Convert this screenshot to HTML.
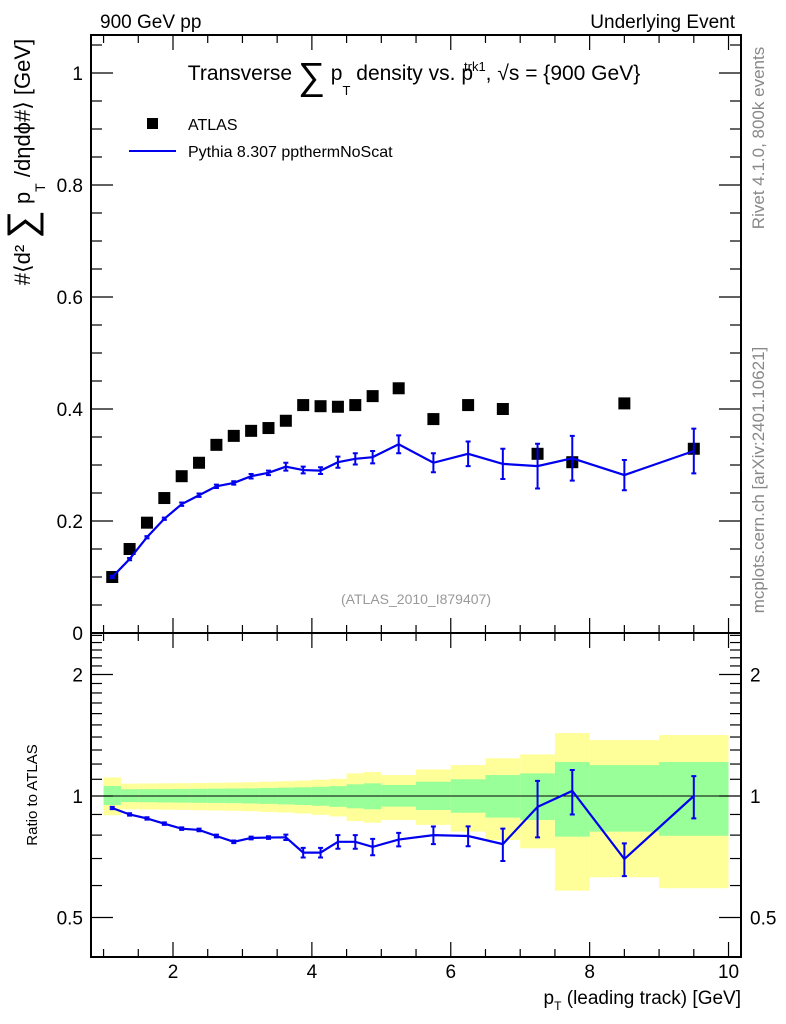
<!DOCTYPE html>
<html><head><meta charset="utf-8"><style>
body{margin:0;background:#fff}
svg{display:block;font-family:"Liberation Sans",sans-serif}
</style></head><body>
<svg id="c" width="786" height="1024" viewBox="0 0 786 1024" xmlns="http://www.w3.org/2000/svg">
<text x="100" y="28" font-size="19">900 GeV pp</text>
<text x="735" y="28" font-size="19" text-anchor="end">Underlying Event</text>
<text x="414" y="80" font-size="21" text-anchor="middle">Transverse <tspan font-size="38" dy="9">∑</tspan><tspan dy="-9"> p</tspan><tspan font-size="13" dy="15">T</tspan><tspan dy="-15"> density vs. p</tspan><tspan font-size="13" dy="-9" dx="-9">trk1</tspan><tspan dy="9">, √s = {900 GeV}</tspan></text>
<rect x="147" y="118" width="11" height="11" fill="#000"/>
<text x="188" y="130" font-size="16">ATLAS</text>
<line x1="129" y1="151" x2="176" y2="151" stroke="#0000ee" stroke-width="2"/>
<text x="188" y="157" font-size="16">Pythia 8.307 ppthermNoScat</text>
<text x="416" y="604" font-size="14" fill="#999" text-anchor="middle">(ATLAS_2010_I879407)</text>
<text transform="translate(764,138) rotate(-90)" font-size="17" fill="#888" text-anchor="middle">Rivet 4.1.0,  800k events</text>
<text transform="translate(764,480) rotate(-90)" font-size="17" fill="#888" text-anchor="middle">mcplots.cern.ch [arXiv:2401.10621]</text>
<text transform="translate(30,162) rotate(-90)" font-size="22" text-anchor="middle">#⟨d² <tspan font-size="40" dy="5">∑</tspan><tspan dy="-5"> p</tspan><tspan font-size="14" dy="15">T</tspan><tspan dy="-15"> /dηdϕ#⟩ [GeV]</tspan></text>
<text transform="translate(37,795) rotate(-90)" font-size="15" text-anchor="middle">Ratio to ATLAS</text>
<text x="741" y="1004" font-size="19" text-anchor="end">p<tspan font-size="12" dy="6">T</tspan><tspan dy="-6"> (leading track) [GeV]</tspan></text>
<g id="g"></g>
</svg>
<script>
const xVals=[1.125,1.375,1.625,1.875,2.125,2.375,2.625,2.875,3.125,3.375,3.625,3.875,4.125,4.375,4.625,4.875,5.25,5.75,6.25,6.75,7.25,7.75,8.5,9.5];
const binEdges=[1,1.25,1.5,1.75,2,2.25,2.5,2.75,3,3.25,3.5,3.75,4,4.25,4.5,4.75,5,5.5,6,6.5,7,7.5,8,9,10];
const atlasVals=[0.10,0.15,0.197,0.241,0.28,0.304,0.336,0.352,0.361,0.366,0.379,0.407,0.405,0.404,0.407,0.423,0.437,0.382,0.407,0.40,0.32,0.305,0.41,0.329];
const pythiaVals=[0.10,0.132,0.171,0.204,0.23,0.246,0.262,0.268,0.28,0.286,0.297,0.291,0.29,0.305,0.311,0.314,0.337,0.304,0.32,0.302,0.298,0.312,0.282,0.325];
const pythiaErr=[0.002,0.002,0.002,0.002,0.003,0.003,0.003,0.003,0.004,0.004,0.007,0.006,0.006,0.01,0.01,0.011,0.016,0.017,0.022,0.027,0.04,0.04,0.027,0.04];
const ratioVals=[0.934,0.90,0.88,0.854,0.83,0.824,0.796,0.77,0.787,0.789,0.79,0.724,0.724,0.77,0.77,0.748,0.78,0.80,0.796,0.76,0.94,1.03,0.698,1.0];
const ratioErr=[0.006,0.006,0.006,0.006,0.006,0.006,0.006,0.006,0.006,0.006,0.012,0.02,0.02,0.03,0.03,0.035,0.03,0.04,0.045,0.07,0.15,0.13,0.065,0.12];
const yellowHi=[1.112,1.073,1.074,1.075,1.076,1.077,1.078,1.080,1.082,1.085,1.088,1.092,1.097,1.103,1.138,1.147,1.127,1.164,1.193,1.24,1.268,1.432,1.376,1.416];
const yellowLo=[0.896,0.927,0.926,0.925,0.924,0.922,0.921,0.919,0.917,0.913,0.910,0.905,0.898,0.890,0.867,0.859,0.872,0.848,0.816,0.778,0.742,0.583,0.629,0.591];
const greenHi=[1.059,1.039,1.040,1.040,1.041,1.042,1.043,1.044,1.045,1.047,1.049,1.051,1.054,1.058,1.069,1.075,1.065,1.085,1.10,1.127,1.138,1.214,1.193,1.214];
const greenLo=[0.95,0.966,0.965,0.964,0.963,0.962,0.961,0.960,0.958,0.956,0.953,0.950,0.946,0.940,0.932,0.927,0.941,0.923,0.909,0.884,0.872,0.793,0.816,0.797];
const xTicks=[2,4,6,8,10];
const yTicks=[0,0.2,0.4,0.6,0.8,1];
const rTicks=[0.5,1,2];

const NS="http://www.w3.org/2000/svg",G=document.getElementById('g');
const L=91,R=741,T=35,MB=633,RB=957;
const X=v=>173+(v-2)*69.44;
const Y=v=>633-v*560;
const RY=v=>796-Math.log2(v)*121.5;
function mk(tag,at,parent){const e=document.createElementNS(NS,tag);for(const k in at)e.setAttribute(k,at[k]);(parent||G).appendChild(e);return e;}

binEdges.slice(0,-1).forEach((lo,i)=>{
 const hi=binEdges[i+1];
 const y=mk('rect',{x:X(lo),y:RY(yellowHi[i]),width:X(hi)-X(lo),height:RY(yellowLo[i])-RY(yellowHi[i]),fill:'#ffff99'});
 
 
});
binEdges.slice(0,-1).forEach((lo,i)=>{
 const hi=binEdges[i+1];
 const g=mk('rect',{x:X(lo),y:RY(greenHi[i]),width:X(hi)-X(lo),height:RY(greenLo[i])-RY(greenHi[i]),fill:'#99ff99'});
 
 
});
const one=mk('line',{x1:L,x2:R,y1:RY(1),y2:RY(1),stroke:'#000','stroke-width':1});



[[T,MB],[MB,RB]].forEach((f,k)=>{
 const r=mk('rect',{x:L,y:f[0],width:R-L,height:f[1]-f[0],fill:'none',stroke:'#000','stroke-width':2});
 
 
});
for(let v=1;v<=10.01;v+=0.5){
 const maj=Math.abs(v-Math.round(v))<1e-6 && Math.round(v)%2===0;
 const len=maj?15:8;
 [[MB,-1],[T,1],[RB,-1],[MB,1]].forEach(([y0,d])=>{
  const t=mk('line',{x1:X(v),x2:X(v),y1:y0,y2:y0+d*len,stroke:'#000','stroke-width':1.2});
  
  
 });
}
xTicks.forEach(v=>{
 const t=mk('text',{x:X(v),y:978,'font-size':19,'text-anchor':'middle'});t.textContent=v;
 
 
});
for(let i=0;i<=21;i++){const v=i*0.05;const y=Y(v);if(y<T)continue;
 const maj=i%4===0,len=maj?22:11;
 [[L,1],[R,-1]].forEach(([x0,d])=>{
  const t=mk('line',{x1:x0,x2:x0+d*len,y1:y,y2:y,stroke:'#000','stroke-width':1.2});
  
  
 });
}
yTicks.forEach(v=>{
 const t=mk('text',{x:83,y:Y(v)+7,'font-size':19,'text-anchor':'end'});t.textContent=v;
 
 
});
for(let i=5;i<=25;i++){const v=i/10;const y=RY(v);if(y<MB+2||y>RB-2)continue;
 const maj=(i===5||i===10||i===20),len=maj?22:11;
 [[L,1],[R,-1]].forEach(([x0,d])=>{
  const t=mk('line',{x1:x0,x2:x0+d*len,y1:y,y2:y,stroke:'#000','stroke-width':1.2});
  
  
 });
}
rTicks.forEach(v=>{
 [[83,'end'],[750,'start']].forEach(([x,a])=>{
  const t=mk('text',{x:x,y:RY(v)+7,'font-size':19,'text-anchor':a});t.textContent=v;
  
  
 });
});
xVals.forEach((x,i)=>{
 const r=mk('rect',{x:X(x)-6,y:Y(atlasVals[i])-6,width:12,height:12,fill:'#000'});
 
 
});
function series(vals,errs,yf,name){
 const pl=mk('polyline',{points:xVals.map((x,i)=>X(x)+','+yf(vals[i])).join(' '),fill:'none',stroke:'#0000ee','stroke-width':2.2});
 
 
 xVals.forEach((x,i)=>{
  const y1=yf(vals[i]+errs[i]),y2=yf(vals[i]-errs[i]),cx=X(x);
  const e=mk('path',{d:`M${cx},${y1}V${y2}M${cx-2.5},${y1}h5M${cx-2.5},${y2}h5`,stroke:'#0000ee','stroke-width':2,fill:'none'});
  
  
 });
}
series(pythiaVals,pythiaErr,Y,'pythia');
series(ratioVals,ratioErr,RY,'ratio');
</script>
</body></html>
